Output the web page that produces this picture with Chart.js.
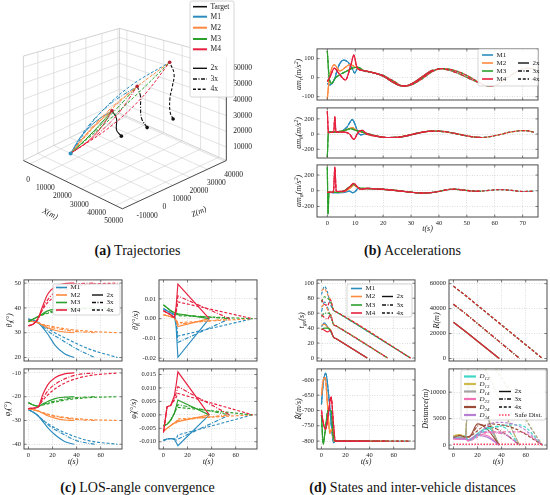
<!DOCTYPE html>
<html>
<head>
<meta charset="utf-8">
<script src="https://cdn.jsdelivr.net/npm/chart.js@4.4.1/dist/chart.umd.min.js"></script>
<style>
  body { margin: 0; background: #fff; }
  #page { position: relative; width: 550px; height: 495px; overflow: hidden; }
  .pn { position: absolute; }
  .cap { position: absolute; width: 275px; text-align: center; font-family: 'Liberation Serif', 'Times New Roman', serif; font-size: 14px; color: #111; line-height: 15px; }
</style>
</head>
<body>
<div id="page">
  <div class="cap" style="left:0;top:243px"><b>(a)</b> Trajectories</div>
  <div class="cap" style="left:275px;top:243px"><b>(b)</b> Accelerations</div>
  <div class="cap" style="left:0;top:480px"><b>(c)</b> LOS-angle convergence</div>
  <div class="cap" style="left:275px;top:480px"><b>(d)</b> States and inter-vehicle distances</div>
</div>
<script>
const SERIF = "'Liberation Serif', 'Times New Roman', serif";
const COLORS = ['#2b8cbe', '#ff8a3d', '#2ca02c', '#e6203e'];
const DASH = [[], [4, 1.5, 1, 1.5], [3, 1.8]];
const END = [38, 55, 74];   // interception time of the 2x, 3x, 4x cases

// ---- (a) trajectories, [X, Z, H] in metres ----
const xTicks3d = [0, 10000, 20000, 30000, 40000, 50000];
const zTicks3d = [-10000, 0, 10000, 20000, 30000, 40000];
const hTicks3d = [10000, 20000, 30000, 40000, 50000, 60000];
const launch = [6500, -1000, 2500];
const hit2x = [12840, 17530, 25000];
const hit3x = [17500, 27700, 39300];
const hit4x = [23500, 40700, 53000];
const target2x = [[18900, 16600, 11500], [17500, 15200, 15500], [14900, 18000, 20500]];
const target3x = [[25100, 25400, 16000], [21500, 26000, 20000], [20000, 27000, 27000], [19500, 27500, 33500]];
const target4x = [[31300, 34200, 20500], [28500, 35500, 23000], [27000, 37000, 31000], [27000, 38500, 39000], [26500, 40000, 46500]];
const via2x = [
  [[7710, 4280, 11800], [9830, 10450, 19300]],
  [[8250, 4820, 10720], [10370, 10990, 18220]],
  [[8880, 5450, 9460], [11000, 11620, 16960]],
  [[9510, 6080, 8200], [11630, 12250, 15700]]];
const via3x = [
  [[8820, 7220, 17470], [12480, 16780, 29730]],
  [[9630, 8030, 15850], [13290, 17590, 28110]],
  [[10575, 8975, 13960], [14235, 18535, 26220]],
  [[11520, 9920, 12070], [15180, 19480, 24330]]];
const via4x = [
  [[10370, 11100, 22930], [16030, 25000, 39770]],
  [[11450, 12180, 20770], [17110, 26080, 37610]],
  [[12710, 13440, 18250], [18370, 27340, 35090]],
  [[13970, 14700, 15730], [19630, 28600, 32570]]];

// ---- (b) accelerations: early transient per missile + slow part per case ----
const accR_early = [
  [[0, -30], [1, -38], [2.5, -10], [4, 60], [5.8, 92], [7.5, 80], [9, 45], [9.8, 25], [11, 50]],
  [[0, -110], [0.8, 0], [2.5, 68], [4.5, 35], [6.5, 55], [8, 68], [9.5, 60], [11, 45]],
  [[0, 140], [0.6, 10], [1.5, -30], [3, 0], [5, 20], [7, 35], [9, 50], [11, 55]],
  [[0, -20], [1, 5], [2.5, 50], [4, 25], [6.5, -12], [8.5, 70], [9.5, 118], [10.5, 60], [11.5, 42]]];
const accR_late = [
  [[13, 38], [16, 28], [20, 8], [23, -20], [26, -42], [28, -43], [31, -25], [34, 5], [37, 35], [38, 40]],
  [[13, 38], [16, 28], [20, 10], [23, -18], [26, -40], [28, -44], [31, -28], [34, 0], [37, 30], [40, 46], [44, 38], [48, 15], [52, -12], [55, -30]],
  [[13, 36], [16, 27], [20, 12], [24, -20], [27, -43], [30, -38], [34, -5], [38, 35], [41, 48], [45, 40], [50, 12], [54, -22], [58, -44], [61, -35], [65, 5], [69, 40], [72, 50], [74, 48]]];
const accT_early = [
  [[0, 20], [2, 25], [5, 35], [7, 90], [9, 190], [10, 120], [11, 20], [12, -10]],
  [[0, 20], [2, 25], [5, 35], [7, 60], [9, 85], [10, 60], [11, 40], [12, 30]],
  [[0, -300], [0.4, 25], [3, 30], [6, 45], [8.5, 70], [10, 50], [12, 35]],
  [[0, 300], [0.4, 20], [2.3, 30], [2.7, 230], [3.1, 30], [6, 25], [8, 0], [9.5, -70], [11, 20], [12.5, 50]]];
const accT_late = [
  [[14, 10], [17, -20], [21, -45], [25, -45], [29, -20], [33, 15], [36, 35], [38, 40]],
  [[14, 5], [17, -25], [21, -45], [25, -42], [29, -15], [33, 20], [37, 38], [40, 40], [45, 15], [50, -25], [53, -40], [55, -42]],
  [[14, 0], [18, -30], [22, -45], [26, -35], [30, -5], [34, 25], [38, 40], [42, 30], [47, 0], [52, -35], [55, -45], [58, -35], [62, -5], [66, 30], [70, 45], [72, 42], [74, 25]]];
const accP_early = [
  [[0, -20], [3, -25], [6, -20], [8, -5], [9, -25], [10, -10], [11, 30], [12, 20]],
  [[0, -20], [3, -20], [6, -10], [8, 30], [9.5, 70], [10.5, 50], [12, 20]],
  [[0, 300], [0.25, -300], [0.6, -20], [3, -20], [6, 0], [8, 50], [9.5, 80], [11, 40], [12.5, 30]],
  [[0, -20], [2.2, -15], [2.7, 300], [3.2, -10], [6, -5], [8, 50], [9.5, 95], [10.5, 60], [12, 20]]];
const accP_late = [
  [[14, 25], [18, 20], [22, 10], [26, -5], [30, -20], [33, -28], [36, -25], [38, -20]],
  [[14, 30], [18, 25], [22, 12], [26, 0], [30, -18], [34, -30], [38, -20], [42, 5], [45, 20], [48, 10], [52, -5], [55, -8]],
  [[14, 30], [18, 25], [22, 15], [27, -5], [31, -22], [35, -28], [39, -15], [43, 15], [46, 20], [50, 5], [54, -5], [58, 5], [62, 15], [66, 5], [70, -10], [74, -5]]];

// ---- (c) LOS angles (deg) and rates (deg/s); rows M1..M4 ----
const tAng = [[0, 4, 8, 12, 16, 22, 30, 38], [0, 4, 8, 12, 18, 28, 40, 55], [0, 4, 8, 12, 20, 32, 50, 74]];
const theta2x = [[35.5, 35, 34, 32, 29.5, 25, 21.5, 20], [35, 34.5, 34, 33, 32, 31, 30.3, 30], [34.5, 35.5, 36.5, 37.8, 38.8, 39.5, 39.9, 40], [32.8, 33.5, 35.8, 41, 45.5, 48.5, 49.8, 50]];
const theta3x = [[35.5, 35, 34, 32.5, 30, 27, 23.5, 20], [35, 34.5, 34, 33.2, 32.3, 31.3, 30.5, 30], [34.5, 35.5, 36.5, 37.5, 38.5, 39.3, 39.8, 40], [32.8, 33.5, 35.6, 40, 44.5, 48, 49.7, 50]];
const theta4x = [[35.5, 35, 34.2, 33, 30.5, 27.5, 23.5, 20], [35, 34.5, 34, 33.3, 32.5, 31.5, 30.6, 30], [34.5, 35.5, 36.3, 37.2, 38.3, 39.2, 39.7, 40], [32.8, 33.5, 35.5, 39.5, 44, 47.5, 49.5, 50]];
const phi2x = [[-25.5, -26.5, -28, -30.5, -33, -36, -38.8, -40], [-25, -25.5, -26, -27, -28, -29, -29.8, -30], [-22.5, -23.5, -24, -23, -22, -20.8, -20.2, -20], [-25, -24.8, -24.3, -19, -15, -12, -10.4, -10]];
const phi3x = [[-25.5, -26.5, -28, -30, -32.5, -35.5, -38.5, -40], [-25, -25.5, -26, -26.8, -27.8, -28.8, -29.6, -30], [-22.5, -23.5, -24, -23.3, -22.3, -21.2, -20.4, -20], [-25, -24.8, -24.3, -20.5, -16.5, -13, -10.8, -10]];
const phi4x = [[-25.5, -26.5, -28, -29.8, -32.5, -35.5, -38.5, -40], [-25, -25.5, -26, -26.7, -27.8, -28.8, -29.6, -30], [-22.5, -23.5, -24, -23.5, -22.5, -21.3, -20.4, -20], [-25, -24.8, -24.3, -21.5, -17.5, -13.8, -11.2, -10]];
const tRate = [[0, 3, 6, 9, 10.5, 12, 38], [0, 3, 6, 9, 10.5, 12, 55], [0, 3, 6, 9, 10.5, 12, 74]];
const thetaDot2x = [[0.005, 0.004, 0.003, 0.002, -0.004, -0.0195, 0], [0.002, 0.0015, 0.001, 0.0005, -0.001, -0.004, 0], [0.007, 0.0055, 0.004, 0.003, 0.003, 0.0025, 0], [0.004, 0.003, 0.002, 0.0005, 0.006, 0.0175, 0]];
const thetaDot3x = [[0.005, 0.004, 0.003, 0.002, -0.002, -0.012, 0], [0.002, 0.0015, 0.001, 0.0005, -0.0008, -0.0028, 0], [0.007, 0.0055, 0.004, 0.003, 0.0028, 0.002, 0], [0.004, 0.003, 0.002, 0.0005, 0.004, 0.0115, 0]];
const thetaDot4x = [[0.005, 0.004, 0.003, 0.002, -0.001, -0.0088, 0], [0.002, 0.0015, 0.001, 0.0005, -0.0006, -0.002, 0], [0.007, 0.0055, 0.004, 0.003, 0.0026, 0.0015, 0], [0.004, 0.003, 0.002, 0.0005, 0.003, 0.0085, 0]];
const phiDot2x = [[-0.0095, -0.009, -0.0088, -0.009, -0.0102, -0.0115, 0], [-0.006, -0.005, -0.004, -0.003, -0.003, -0.0025, 0], [-0.004, -0.0035, -0.002, 0.0005, 0.003, 0.0055, 0], [-0.0065, 0.003, 0.0035, 0.007, 0.011, 0.016, 0]];
const phiDot3x = [[-0.0095, -0.009, -0.0088, -0.009, -0.0095, -0.009, 0], [-0.006, -0.005, -0.004, -0.003, -0.0028, -0.002, 0], [-0.004, -0.0035, -0.002, 0.0005, 0.0025, 0.0038, 0], [-0.0065, 0.003, 0.0035, 0.006, 0.008, 0.0105, 0]];
const phiDot4x = [[-0.0095, -0.009, -0.0088, -0.009, -0.009, -0.0075, 0], [-0.006, -0.005, -0.004, -0.003, -0.0025, -0.0015, 0], [-0.004, -0.0035, -0.002, 0.0005, 0.002, 0.0028, 0], [-0.0065, 0.003, 0.0035, 0.0055, 0.0065, 0.008, 0]];

// ---- (d) states ----
const tGoT = [[0, 2.5, 5, 7.5, 10, 12, 38], [0, 2.5, 5, 7.5, 10, 12, 55], [0, 2.5, 5, 7.5, 10, 12, 74]];
const tgo2x = [[42, 47, 42, 36, 28, 26, 0], [44, 45, 41, 38, 28, 26, 0], [38, 40, 40, 37, 28, 26, 0], [39, 37, 35, 37, 28, 26, 0]];
const tgo3x = [[62, 75, 68, 55, 45, 43, 0], [68, 72, 65, 58, 45, 43, 0], [55, 60, 60, 58, 45, 43, 0], [58, 54, 52, 58, 45, 43, 0]];
const tgo4x = [[85, 96, 88, 72, 64, 62, 0], [90, 93, 85, 78, 64, 62, 0], [75, 82, 80, 76, 64, 62, 0], [78, 72, 70, 78, 64, 62, 0]];
const rangeT = [[0, 10, 38], [0, 10, 55], [0, 10, 74]];
const range2x = [29000, 21600, 0];
const range3x = [43500, 36000, 0];
const range4x = [58000, 50500, 0];
const rdotEarly = [
  [[0, -680], [1.5, -610], [3.5, -578], [6, -650], [8.5, -760], [10, -805], [11.5, -800]],
  [[0, -650], [1.5, -600], [3, -592], [5, -680], [7, -775], [8.5, -760], [10.5, -800]],
  [[0, -715], [1.5, -810], [3, -770], [5.5, -700], [8, -700], [10, -790], [11.5, -800]],
  [[0, -700], [1.5, -740], [3.5, -762], [6, -700], [8, -655], [10, -745], [11.5, -800]]];
const distNames = ['D_{12}', 'D_{13}', 'D_{14}', 'D_{23}', 'D_{24}', 'D_{34}'];
const distColors = ['#3fd6c6', '#cdbb4e', '#a3a3a3', '#f072b4', '#9a4a36', '#b97fd3'];
const dist2x = [
  [[0, 1500], [5, 1300], [10, 1700], [12, 900], [20, 2200], [29, 3300], [38, 0]],
  [[0, 1700], [5, 2000], [10, 1500], [12.5, 11500], [38, 0]],
  [[0, 1600], [5, 1500], [10, 1300], [12.5, 11000], [38, 0]],
  [[0, 1200], [5, 1100], [10, 1300], [12, 800], [20, 2000], [28, 1800], [38, 0]],
  [[0, 1400], [5, 1800], [10, 1500], [13, 1500], [20, 4000], [28, 3000], [38, 0]],
  [[0, 1300], [5, 1200], [10, 1100], [12, 1000], [20, 1800], [28, 1500], [38, 0]]];
const dist3x = [
  [[0, 1500], [5, 1300], [10, 1700], [12, 900], [25, 2800], [40, 3500], [55, 0]],
  [[0, 1700], [5, 2000], [10, 1500], [13, 17500], [55, 0]],
  [[0, 1600], [5, 1500], [10, 1300], [13, 17000], [55, 0]],
  [[0, 1200], [5, 1100], [10, 1300], [12, 800], [25, 2300], [40, 2200], [55, 0]],
  [[0, 1400], [5, 1800], [10, 1500], [13, 1600], [22, 3800], [38, 2800], [55, 0]],
  [[0, 1300], [5, 1200], [10, 1100], [12, 1000], [25, 2500], [40, 2300], [55, 0]]];
const dist4x = [
  [[0, 1500], [5, 1300], [10, 1700], [12, 900], [30, 3200], [55, 3800], [74, 0]],
  [[0, 1700], [5, 2000], [10, 1500], [13, 18500], [74, 0]],
  [[0, 1600], [5, 1500], [10, 1300], [13, 18000], [74, 0]],
  [[0, 1200], [5, 1100], [10, 1300], [12, 800], [30, 2500], [55, 2500], [74, 0]],
  [[0, 1400], [5, 1800], [10, 1500], [13, 1600], [30, 4000], [50, 3200], [74, 0]],
  [[0, 1300], [5, 1200], [10, 1100], [12, 1000], [35, 4300], [55, 3500], [74, 0]]];
const safeDist = [[0, 150], [74, 150]];

const page = document.getElementById('page');

function richParts(s) {
  const out = []; let buf = '', i = 0;
  while (i < s.length) {
    const c = s[i];
    if ((c === '_' || c === '^') && s[i + 1] === '{') {
      if (buf) { out.push({ t: buf, m: 0 }); buf = ''; }
      const j = s.indexOf('}', i);
      out.push({ t: s.slice(i + 2, j), m: c === '_' ? 1 : -1 });
      i = j + 1;
    } else { buf += c; i++; }
  }
  if (buf) out.push({ t: buf, m: 0 });
  return out;
}

function drawRich(ctx, s, x, y, size, rot, align, italic) {
  const parts = richParts(s);
  const font = sz => (italic ? 'italic ' : '') + sz + 'px ' + SERIF;
  ctx.save();
  ctx.translate(x, y); ctx.rotate(rot || 0);
  let w = 0;
  parts.forEach(p => { ctx.font = font(p.m ? size * 0.7 : size); p.w = ctx.measureText(p.t).width; w += p.w; });
  let cx = align === 'left' ? 0 : -w / 2;
  ctx.textBaseline = 'middle'; ctx.textAlign = 'left'; ctx.fillStyle = '#1a1a1a';
  parts.forEach(p => { ctx.font = font(p.m ? size * 0.7 : size); ctx.fillText(p.t, cx, p.m * size * 0.32); cx += p.w; });
  ctx.restore();
}

function drawLegend(ctx, lg, ox, oy) {
  const [x0, y0, x1, y1] = lg.box;
  ctx.save();
  ctx.translate(-ox, -oy);
  ctx.fillStyle = 'rgba(255,255,255,0.9)'; ctx.strokeStyle = '#cccccc'; ctx.lineWidth = 0.8; ctx.setLineDash([]);
  ctx.beginPath(); ctx.roundRect(x0, y0, x1 - x0, y1 - y0, 2); ctx.fill(); ctx.stroke();
  lg.items.forEach(it => {
    ctx.strokeStyle = it.color; ctx.lineWidth = it.width || 1.6; ctx.setLineDash(it.dash || []);
    ctx.beginPath(); ctx.moveTo(it.x, it.y); ctx.lineTo(it.x + it.len, it.y); ctx.stroke();
    ctx.setLineDash([]);
    drawRich(ctx, it.text, it.x + it.len + 3.5, it.y, lg.size || 7, 0, 'left', !!it.italic);
  });
  ctx.restore();
}

function legendMS(box, leftX, rightX, rows, len) {
  const items = [];
  ['M1', 'M2', 'M3', 'M4'].forEach((n, i) => items.push({ x: leftX, y: rows[i], len, color: COLORS[i], text: n }));
  ['2x', '3x', '4x'].forEach((n, i) => items.push({ x: rightX, y: rows[i + 1], len, color: '#111', dash: DASH[i], text: n, width: 1.4 }));
  return { box, items };
}

function fmtNum(v, dec) {
  return (v < 0 ? '-' : '') + Math.abs(v).toFixed(dec);
}

function line(points, color, dash, extra) {
  return Object.assign({
    data: points.map(p => ({ x: p[0], y: p[1] })), showLine: true, borderColor: color,
    borderDash: dash, borderWidth: 1.15, pointRadius: 0, cubicInterpolationMode: 'monotone'
  }, extra || {});
}
const zipT = (ts, vs) => ts.map((t, i) => [t, vs[i]]);

function groupSets(times, cases, extra) {
  const out = [];
  for (let m = 0; m < 4; m++) for (let s = 0; s < 3; s++) out.push(line(zipT(times[s], cases[s][m]), COLORS[m], DASH[s], extra));
  return out;
}

function deco(o, ox, oy) {
  return {
    id: 'deco',
    afterDatasetsDraw(chart) {
      const { ctx, chartArea: a, scales } = chart;
      ctx.save();
      ctx.strokeStyle = '#444'; ctx.lineWidth = 0.7; ctx.setLineDash([]);
      ctx.beginPath();
      scales.x.ticks.forEach(tk => {
        const p = scales.x.getPixelForValue(tk.value);
        ctx.moveTo(p, a.bottom); ctx.lineTo(p, a.bottom - 2.5); ctx.moveTo(p, a.top); ctx.lineTo(p, a.top + 2.5);
      });
      scales.y.ticks.forEach(tk => {
        const p = scales.y.getPixelForValue(tk.value);
        ctx.moveTo(a.left, p); ctx.lineTo(a.left + 2.5, p); ctx.moveTo(a.right, p); ctx.lineTo(a.right - 2.5, p);
      });
      ctx.stroke();
      ctx.strokeStyle = '#4d4d4d'; ctx.lineWidth = 1;
      ctx.strokeRect(a.left, a.top, a.right - a.left, a.bottom - a.top);
      drawRich(ctx, o.ylabel, a.left - o.yoff, (a.top + a.bottom) / 2, 8, -Math.PI / 2, 'center', true);
      if (o.xlabel) drawRich(ctx, o.xlabel, (a.left + a.right) / 2, a.bottom + o.xoff, 8, 0, 'center', true);
      if (o.legend) drawLegend(ctx, o.legend, ox, oy);
      ctx.restore();
    }
  };
}

function panel(o) {
  const PL = 42, PR = 8, PT = 6, PB = 24;
  const [l, t, r, b] = o.box;
  const w = Math.round(r - l + PL + PR), h = Math.round(b - t + PT + PB);
  const ox = l - PL, oy = t - PT;
  const div = document.createElement('div');
  div.className = 'pn';
  div.style.left = ox + 'px'; div.style.top = oy + 'px';
  const cv = document.createElement('canvas');
  cv.width = w; cv.height = h; cv.style.width = w + 'px'; cv.style.height = h + 'px';
  div.appendChild(cv); page.appendChild(div);
  const fixTicks = vals => s => { s.ticks = vals.map(v => ({ value: v })); };
  const tickFont = { family: SERIF, size: 6.5 };
  new Chart(cv, {
    type: 'scatter',
    // Chart.js paints the first dataset last, so reverse to keep M4 on top
    data: { datasets: o.sets.slice().reverse() },
    options: {
      responsive: false, animation: false, events: [],
      layout: { padding: { left: 0, right: PR, top: PT, bottom: 0 } },
      plugins: { legend: { display: false }, tooltip: { enabled: false } },
      scales: {
        x: {
          type: 'linear', min: o.xr[0], max: o.xr[1],
          afterFit: s => { s.height = PB; }, afterBuildTicks: fixTicks(o.xt),
          ticks: { display: !!o.xlabel, font: tickFont, color: '#222', padding: 2, maxRotation: 0, autoSkip: false, callback: v => fmtNum(v, 0) },
          grid: { color: '#cfcfcf', lineWidth: 0.7, drawTicks: false }, border: { display: false, dash: [1, 1.5] }
        },
        y: {
          type: 'linear', min: o.yr[0], max: o.yr[1],
          afterFit: s => { s.width = PL; }, afterBuildTicks: fixTicks(o.yt),
          ticks: { font: tickFont, color: '#222', padding: 3, autoSkip: false, callback: v => fmtNum(v, o.dec || 0) },
          grid: { color: '#cfcfcf', lineWidth: 0.7, drawTicks: false }, border: { display: false, dash: [1, 1.5] }
        }
      }
    },
    plugins: [deco(o, ox, oy)]
  });
}

// ---------- (b) accelerations ----------
function accSets(early, late) {
  const out = [];
  for (let m = 0; m < 4; m++) for (let s = 0; s < 3; s++) out.push(line(early[m].concat(late[s]), COLORS[m], DASH[s]));
  return out;
}
const accX = [-3.7, 75.5], accXt = [0, 10, 20, 30, 40, 50, 60, 70];
panel({ box: [317, 48, 538, 100], xr: accX, xt: accXt, yr: [-117, 151], yt: [-100, 0, 100], ylabel: 'am_{r}(m/s^{2})', yoff: 18,
  sets: accSets(accR_early, accR_late), legend: legendMS([478, 49, 538, 86], 482, 518, [55, 63, 71, 79], 11) });
panel({ box: [317, 106.5, 538, 157], xr: accX, xt: accXt, yr: [-315, 345], yt: [-200, 0, 200], ylabel: 'am_{\u03b8}(m/s^{2})', yoff: 18,
  sets: accSets(accT_early, accT_late) });
panel({ box: [317, 164, 538, 216.5], xr: accX, xt: accXt, yr: [-334, 329], yt: [-200, 0, 200], ylabel: 'am_{\u03c6}(m/s^{2})', yoff: 18,
  xlabel: 't(s)', xoff: 12, sets: accSets(accP_early, accP_late) });

// ---------- (c) LOS angles ----------
const tX = [-3.7, 77.7], tXt = [0, 20, 40, 60];
panel({ box: [24, 279, 122, 360.5], xr: tX, xt: tXt, yr: [18.6, 51.3], yt: [20, 30, 40, 50], ylabel: '\u03b8_{l}(\u00b0)', yoff: 14,
  sets: groupSets(tAng, [theta2x, theta3x, theta4x]), legend: legendMS([53, 284, 120, 315], 56, 92, [287.5, 295, 302.5, 310], 11) });
panel({ box: [24, 368, 122, 449], xr: tX, xt: tXt, yr: [-42, -8.3], yt: [-40, -30, -20, -10], ylabel: '\u03c6_{l}(\u00b0)', yoff: 16,
  xlabel: 't(s)', xoff: 13, sets: groupSets(tAng, [phi2x, phi3x, phi4x]) });
panel({ box: [159, 279, 257, 360.5], xr: tX, xt: tXt, yr: [-0.0214, 0.0196], yt: [-0.02, -0.01, 0, 0.01], dec: 2, ylabel: '\u03b8\u0307_{l}(\u00b0/s)', yoff: 23,
  sets: groupSets(tRate, [thetaDot2x, thetaDot3x, thetaDot4x], { cubicInterpolationMode: 'default', tension: 0 }) });
panel({ box: [159, 368, 257, 449], xr: tX, xt: tXt, yr: [-0.0127, 0.0171], yt: [-0.01, -0.005, 0, 0.005, 0.01, 0.015], dec: 3, ylabel: '\u03c6\u0307_{l}(\u00b0/s)', yoff: 25,
  xlabel: 't(s)', xoff: 13, sets: groupSets(tRate, [phiDot2x, phiDot3x, phiDot4x], { cubicInterpolationMode: 'default', tension: 0 }) });

// ---------- (d) states and distances ----------
panel({ box: [317, 279, 415, 360.5], xr: tX, xt: tXt, yr: [-4, 104.5], yt: [0, 20, 40, 60, 80, 100], ylabel: 't_{go}(s)', yoff: 15,
  sets: groupSets(tGoT, [tgo2x, tgo3x, tgo4x]), legend: legendMS([347, 284, 412, 317], 351, 382, [288.5, 296.5, 305, 313], 11) });
const rangeSets = [];
for (let m = 0; m < 4; m++) [range2x, range3x, range4x].forEach((r, s) => rangeSets.push(line(zipT(rangeT[s], r), COLORS[m], DASH[s], { tension: 0, cubicInterpolationMode: 'default' })));
panel({ box: [449, 279, 547, 360.5], xr: tX, xt: tXt, yr: [-2000, 63000], yt: [0, 20000, 40000, 60000], ylabel: 'R(m)', yoff: 12, sets: rangeSets });
const rdotSets = [];
for (let m = 0; m < 4; m++) for (let s = 0; s < 3; s++) rdotSets.push(line(rdotEarly[m].concat([[14, -800], [END[s], -800]]), COLORS[m], DASH[s]));
panel({ box: [317, 368, 415, 449], xr: tX, xt: tXt, yr: [-826, -564], yt: [-800, -750, -700, -650, -600], ylabel: '\u1e58(m/s)', yoff: 18,
  xlabel: 't(s)', xoff: 12.5, sets: rdotSets });
const distSets = [];
[dist2x, dist3x, dist4x].forEach((c, s) => c.forEach((d, i) => distSets.push(line(d, distColors[i], DASH[s]))));
distSets.push(line(safeDist, '#ff3b5c', [1.5, 1.5], { borderWidth: 1.3, cubicInterpolationMode: 'default' }));
const distLegendItems = distNames.map((n, i) => ({ x: 464, y: [376.5, 384, 391.5, 399, 407, 415][i], len: 12, color: distColors[i], text: n, italic: true, width: 2.2 }));
['2x', '3x', '4x'].forEach((n, i) => distLegendItems.push({ x: 499, y: [391.5, 399, 407][i], len: 12, color: '#111', dash: DASH[i], text: n, width: 1.4 }));
distLegendItems.push({ x: 499, y: 415, len: 12, color: '#ff3b5c', dash: [1.5, 1.5], text: 'Safe Dist.', width: 1.4 });
panel({ box: [449, 368, 547, 449], xr: tX, xt: tXt, yr: [-750, 14400], yt: [0, 5000, 10000], ylabel: 'Distance(m)', yoff: 23,
  xlabel: 't(s)', xoff: 12.5, sets: distSets, legend: { box: [461, 370, 546, 420], items: distLegendItems } });

// ---------- (a) 3D trajectories, projected onto the page ----------
const XR = [-4000, 54000], ZR = [-19000, 41000], HR = [1500, 67000];
const CF = [122, 212], CL = [20, 162], CR = [229, 162], CB = [119, 113];
const KF = 1.85, KL = 1.65, KR = 1.63, KB = 1.34;
function proj(p) {
  const u = (XR[1] - p[0]) / (XR[1] - XR[0]), v = (p[1] - ZR[0]) / (ZR[1] - ZR[0]);
  const a = (1 - u) * (1 - v), b = u * (1 - v), c = (1 - u) * v, d = u * v;
  const k = KF * a + KL * b + KR * c + KB * d;
  return { x: CF[0] * a + CL[0] * b + CR[0] * c + CB[0] * d,
           y: CF[1] * a + CL[1] * b + CR[1] * c + CB[1] * d - (p[2] - HR[0]) / 1000 * k };
}

(function () {
  const W = 275, H = 236;
  const div = document.createElement('div');
  div.className = 'pn'; div.style.left = '0px'; div.style.top = '0px';
  const cv = document.createElement('canvas');
  cv.width = W; cv.height = H; cv.style.width = W + 'px'; cv.style.height = H + 'px';
  div.appendChild(cv); page.appendChild(div);

  const sets = [];
  const seg = (p, q, color, width) => sets.push({ data: [proj(p), proj(q)], showLine: true, borderColor: color, borderWidth: width, pointRadius: 0 });
  const G = '#d6d6d6';
  xTicks3d.forEach(x => seg([x, ZR[0], HR[0]], [x, ZR[1], HR[0]], G, 0.7));
  zTicks3d.forEach(z => seg([XR[0], z, HR[0]], [XR[1], z, HR[0]], G, 0.7));
  zTicks3d.forEach(z => seg([XR[0], z, HR[0]], [XR[0], z, HR[1]], G, 0.7));
  hTicks3d.forEach(h => seg([XR[0], ZR[0], h], [XR[0], ZR[1], h], G, 0.7));
  xTicks3d.forEach(x => seg([x, ZR[1], HR[0]], [x, ZR[1], HR[1]], G, 0.7));
  hTicks3d.forEach(h => seg([XR[0], ZR[1], h], [XR[1], ZR[1], h], G, 0.7));
  const E = '#c8c8c8';
  seg([XR[0], ZR[0], HR[0]], [XR[0], ZR[0], HR[1]], E, 0.8);
  seg([XR[0], ZR[0], HR[1]], [XR[0], ZR[1], HR[1]], E, 0.8);
  seg([XR[0], ZR[1], HR[0]], [XR[0], ZR[1], HR[1]], E, 0.8);
  seg([XR[0], ZR[1], HR[1]], [XR[1], ZR[1], HR[1]], E, 0.8);
  seg([XR[0], ZR[0], HR[0]], [XR[0], ZR[1], HR[0]], E, 0.8);
  seg([XR[0], ZR[1], HR[0]], [XR[1], ZR[1], HR[0]], E, 0.8);
  seg([XR[0], ZR[0], HR[0]], [XR[1], ZR[0], HR[0]], '#333', 0.9);
  seg([XR[1], ZR[0], HR[0]], [XR[1], ZR[1], HR[0]], '#333', 0.9);
  seg([XR[1], ZR[1], HR[0]], [XR[1], ZR[1], HR[1]], '#333', 0.9);

  const hits = [hit2x, hit3x, hit4x], vias = [via2x, via3x, via4x], tgts = [target2x, target3x, target4x];
  tgts.forEach((tg, s) => {
    const pts = tg.concat([hits[s]]);
    sets.push({ data: pts.map(proj), showLine: true, borderColor: '#111', borderDash: DASH[s], borderWidth: 1.1, tension: 0.4,
      pointRadius: pts.map((p, i) => i === 0 ? 1.8 : 0), pointBackgroundColor: '#111', pointBorderWidth: 0 });
  });
  for (let s = 0; s < 3; s++) for (let m = 0; m < 4; m++) {
    const pts = [launch].concat(vias[s][m], [hits[s]]);
    sets.push({ data: pts.map(proj), showLine: true, borderColor: COLORS[m], borderDash: DASH[s], borderWidth: 1, tension: 0.35, pointRadius: 0 });
  }
  sets.push({ data: [proj(launch)], pointRadius: 2, pointBackgroundColor: '#2b8cbe', pointBorderWidth: 0 });
  sets.push({ data: hits.map(proj), pointRadius: 1.8, pointBackgroundColor: '#b52030', pointBorderWidth: 0 });

  const legend3d = {
    box: [190, 1, 234, 97], size: 7.5,
    items: [
      { x: 193, y: 6.7, len: 14, color: '#111', text: 'Target', width: 1.6 },
      { x: 193, y: 16.7, len: 14, color: COLORS[0], text: 'M1', width: 2 },
      { x: 193, y: 27.7, len: 14, color: COLORS[1], text: 'M2', width: 2 },
      { x: 193, y: 39, len: 14, color: COLORS[2], text: 'M3', width: 2 },
      { x: 193, y: 49.3, len: 14, color: COLORS[3], text: 'M4', width: 2 },
      { x: 193, y: 68.3, len: 14, color: '#111', dash: DASH[0], text: '2x', width: 1.4 },
      { x: 193, y: 79, len: 14, color: '#111', dash: DASH[1], text: '3x', width: 1.4 },
      { x: 193, y: 89.3, len: 14, color: '#111', dash: DASH[2], text: '4x', width: 1.4 }]
  };

  const labels3d = {
    id: 'labels3d',
    afterDatasetsDraw(chart) {
      const { ctx } = chart, sx = chart.scales.x, sy = chart.scales.y;
      const at = p => { const q = proj(p); return [sx.getPixelForValue(q.x), sy.getPixelForValue(q.y)]; };
      ctx.save();
      ctx.font = '7.5px ' + SERIF; ctx.fillStyle = '#222'; ctx.textBaseline = 'middle';
      ctx.textAlign = 'center';
      xTicks3d.forEach(v => { const [x, y] = at([v, ZR[0], HR[0]]); ctx.fillText(fmtNum(v, 0), x - 2, y + 16); });
      zTicks3d.forEach(v => { const [x, y] = at([XR[1], v, HR[0]]); ctx.fillText(fmtNum(v, 0), x + 9, y + 14); });
      ctx.textAlign = 'left';
      hTicks3d.forEach(v => { const [x, y] = at([XR[1], ZR[1], v]); ctx.fillText(fmtNum(v, 0), x + 7, y); });
      drawRich(ctx, 'X(m)', 50, 214, 8, 0.45, 'center', true);
      drawRich(ctx, 'Z(m)', 199, 212, 8, -0.42, 'center', true);
      drawLegend(ctx, legend3d, 0, 0);
      ctx.restore();
    }
  };

  new Chart(cv, {
    type: 'scatter',
    data: { datasets: sets.reverse() },
    options: {
      responsive: false, animation: false, events: [],
      layout: { padding: 0 },
      plugins: { legend: { display: false }, tooltip: { enabled: false } },
      scales: {
        x: { type: 'linear', min: 0, max: W, display: false },
        y: { type: 'linear', min: 0, max: H, reverse: true, display: false }
      }
    },
    plugins: [labels3d]
  });
})();
</script>
</body>
</html>
